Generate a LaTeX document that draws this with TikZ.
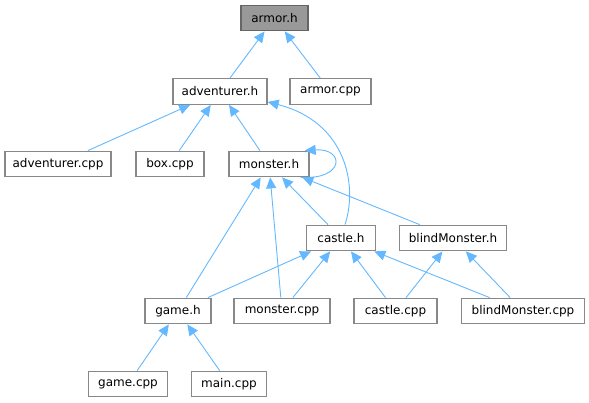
\documentclass[tikz,border=0pt]{standalone}
\usepackage{fontspec}
\setmainfont{DejaVu Sans}
\usetikzlibrary{arrows.meta}
\definecolor{edgeblue}{HTML}{63B8FF}
\definecolor{boxborder}{HTML}{888888}
\definecolor{rootfill}{HTML}{999999}
\definecolor{rootborder}{HTML}{666666}
\tikzset{
  file/.style={draw=boxborder, line width=1.3pt, fill=white, inner sep=0pt,
    minimum height=25.5pt, font=\fontsize{12}{14}\selectfont, text=black},
  rootfile/.style={file, fill=rootfill, draw=rootborder},
  dep/.style={draw=edgeblue, line width=0.9pt,
    -{Triangle[length=11pt,width=10pt,fill=edgeblue]}, shorten >=0pt},
}
\begin{document}
\begin{tikzpicture}[x=1pt,y=-1pt]
\useasboundingbox (0,0) rectangle (589,403);
% row 0
\node[rootfile, minimum width=67pt] (armorh) at (274.5,18) {armor.h};
% row 1
\node[file, minimum width=94pt] (advh) at (220,91.5) {adventurer.h};
\node[file, minimum width=81pt] (armorcpp) at (330.5,91.5) {armor.cpp};
% row 2
\node[file, minimum width=106pt] (advcpp) at (58,164) {adventurer.cpp};
\node[file, minimum width=68pt] (boxcpp) at (170,164) {box.cpp};
\node[file, minimum width=80pt] (monsterh) at (269,164) {monster.h};
% row 3
\node[file, minimum width=69pt] (castleh) at (341,238) {castle.h};
\node[file, minimum width=107pt] (blindh) at (453,238) {blindMonster.h};
% row 4
\node[file, minimum width=66pt] (gameh) at (178,311) {game.h};
\node[file, minimum width=96pt] (monstercpp) at (282,311) {monster.cpp};
\node[file, minimum width=83pt] (castlecpp) at (395.5,311) {castle.cpp};
\node[file, minimum width=123pt] (blindcpp) at (523,311) {blindMonster.cpp};
% row 5
\node[file, minimum width=79pt] (gamecpp) at (128,384) {game.cpp};
\node[file, minimum width=75pt] (maincpp) at (229,384) {main.cpp};

% edges
\draw[dep] (advh) -- (armorh);
\draw[dep] (armorcpp) -- (armorh);
\draw[dep] (advcpp) -- (advh);
\draw[dep] (boxcpp) -- (advh);
\draw[dep] (monsterh) -- (advh);
\draw[dep] ([xshift=4pt]castleh.north) .. controls (358,185) and (346,122) .. ([yshift=3pt]advh.south east);
\draw[dep] ([xshift=-9pt]monsterh.south east) .. controls (345,180) and (345,148) .. ([xshift=-5pt]monsterh.north east);
\draw[dep] (castleh) -- (monsterh);
\draw[dep] (blindh) -- (monsterh);
\draw[dep] (gameh) -- (monsterh);
\draw[dep] (monstercpp) -- (monsterh);
\draw[dep] (gameh) -- (castleh);
\draw[dep] (monstercpp) -- (castleh);
\draw[dep] (castlecpp) -- (castleh);
\draw[dep] (blindcpp) -- (castleh);
\draw[dep] (castlecpp) -- (blindh);
\draw[dep] (blindcpp) -- (blindh);
\draw[dep] (gamecpp) -- (gameh);
\draw[dep] (maincpp) -- (gameh);
\end{tikzpicture}
\end{document}
